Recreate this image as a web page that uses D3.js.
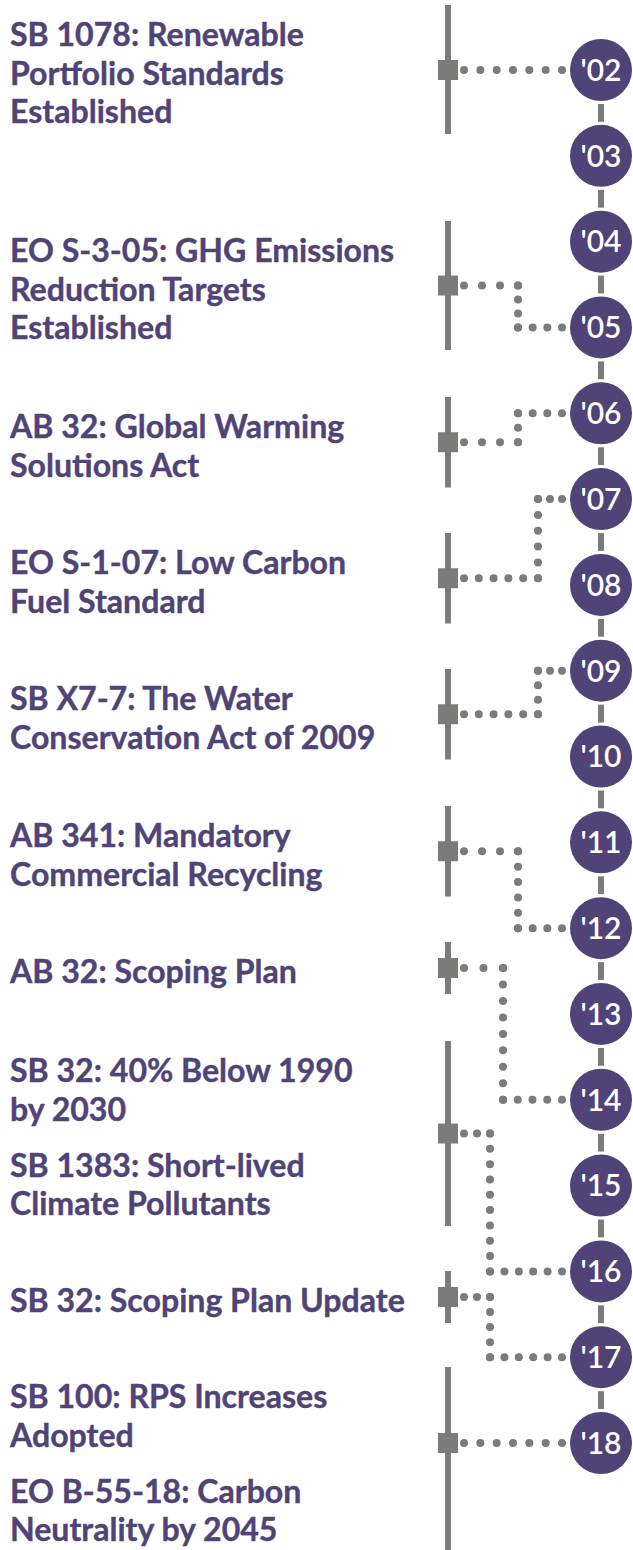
<!DOCTYPE html>
<html>
<head>
<meta charset="utf-8">
<script src="https://cdn.jsdelivr.net/npm/d3@7"></script>
<style>
  body { margin: 0; background: #fff; }
  svg { display: block; }
</style>
</head>
<body>
<svg width="633" height="1550"></svg>
<script>
// year circles
var years = ["'02", "'03", "'04", "'05", "'06", "'07", "'08", "'09", "'10",
             "'11", "'12", "'13", "'14", "'15", "'16", "'17", "'18"];

// each group of laws and the year it points at
var lawLabels = [
  [["SB 1078: Renewable", "Portfolio Standards", "Established"]],
  [["EO S-3-05: GHG Emissions", "Reduction Targets", "Established"]],
  [["AB 32: Global Warming", "Solutions Act"]],
  [["EO S-1-07: Low Carbon", "Fuel Standard"]],
  [["SB X7-7: The Water", "Conservation Act of 2009"]],
  [["AB 341: Mandatory", "Commercial Recycling"]],
  [["AB 32: Scoping Plan"]],
  [["SB 32: 40% Below 1990", "by 2030"], ["SB 1383: Short-lived", "Climate Pollutants"]],
  [["SB 32: Scoping Plan Update"]],
  [["SB 100: RPS Increases", "Adopted"], ["EO B-55-18: Carbon", "Neutrality by 2045"]]
];
var lawYears = ["'02", "'05", "'06", "'07", "'09", "'12", "'14", "'16", "'17", "'18"];

// layout: first baseline of each text block, x of the connector elbow (null = straight)
var blockTop = [46, 262, 438, 574, 710, 847, 983, 1082, 1312, 1408];
var elbowX = [null, 518, 518, 538, 538, 518, 503, 490, 490, null];

function main(){
  var svg = d3.select("svg");
  var purple = "#4f4377", grey = "#7b7c7a";
  var lineH = 38.5, itemGap = 17.5;
  var barX = 448, cx = 601, r = 31;
  var font = "Lato, 'Open Sans', sans-serif";

  var y = d3.scalePoint().domain(years).range([70, 1443]);

  // size text so the widest line matches the original
  var probe = svg.append("text")
      .attr("font-family", font)
      .attr("font-weight", 700)
      .attr("font-size", 30)
      .text("SB 32: Scoping Plan Update");
  var fontSize = 30 * 395 / probe.node().getComputedTextLength();
  probe.remove();

  var gLines = svg.append("g"), gDots = svg.append("g"), gText = svg.append("g");

  // year spine
  gLines.selectAll(".link")
      .data(years.slice(1))
      .enter().append("rect")
      .attr("x", cx - 3)
      .attr("width", 6)
      .attr("y", function(d, i) { return y(years[i]) + r + 3; })
      .attr("height", function(d, i) { return y(d) - y(years[i]) - 2 * r - 6; })
      .attr("fill", grey);

  var yearG = svg.selectAll(".year")
      .data(years)
      .enter().append("g")
      .attr("transform", function(d) { return "translate(" + cx + "," + y(d) + ")"; });
  yearG.append("circle").attr("r", r).attr("fill", purple);
  yearG.append("text")
      .attr("text-anchor", "middle")
      .attr("dy", "0.36em")
      .attr("font-family", font)
      .attr("font-weight", 600)
      .attr("font-size", 30)
      .attr("fill", "#fff")
      .text(function(d) { return d; });

  lawLabels.forEach(function(items, gi) {
    // text
    var base = blockTop[gi], last = base;
    items.forEach(function(lines, ii) {
      lines.forEach(function(line, li) {
        gText.append("text")
            .attr("x", 10)
            .attr("y", base)
            .attr("font-family", font)
            .attr("font-weight", 700)
            .attr("font-size", fontSize)
            .attr("fill", purple)
            .attr("stroke", purple)
            .attr("stroke-width", 0.4)
            .text(line);
        last = base;
        base += lineH;
      });
      base += itemGap;
    });

    var top = blockTop[gi] - 41, bottom = last + 11;
    if (gi == lawLabels.length - 1) bottom = 1560;
    gLines.append("rect")
        .attr("x", barX - 3).attr("width", 6)
        .attr("y", top).attr("height", bottom - top)
        .attr("fill", grey);

    var yy = y(lawYears[gi]);
    var sq = elbowX[gi] == null ? yy : (top + bottom) / 2;
    gLines.append("rect")
        .attr("x", barX - 10).attr("y", sq - 10)
        .attr("width", 20).attr("height", 20)
        .attr("fill", grey);

    // dotted connector
    var pts = elbowX[gi] == null
        ? [[barX + 16, yy], [cx - r - 8, yy]]
        : [[barX + 16, sq], [elbowX[gi], sq], [elbowX[gi], yy], [cx - r - 8, yy]];
    var dots = [];
    for (var k = 0; k < pts.length - 1; k++) {
      var a = pts[k], b = pts[k + 1];
      var len = Math.hypot(b[0] - a[0], b[1] - a[1]);
      var n = Math.max(1, Math.round(len / 16));
      d3.range(n + 1).forEach(function(j) {
        dots.push([a[0] + (b[0] - a[0]) * j / n, a[1] + (b[1] - a[1]) * j / n]);
      });
    }
    gDots.selectAll(null)
        .data(dots)
        .enter().append("circle")
        .attr("cx", function(d) { return d[0]; })
        .attr("cy", function(d) { return d[1]; })
        .attr("r", 4)
        .attr("fill", grey);
  });
}
main();
</script>
</body>
</html>
